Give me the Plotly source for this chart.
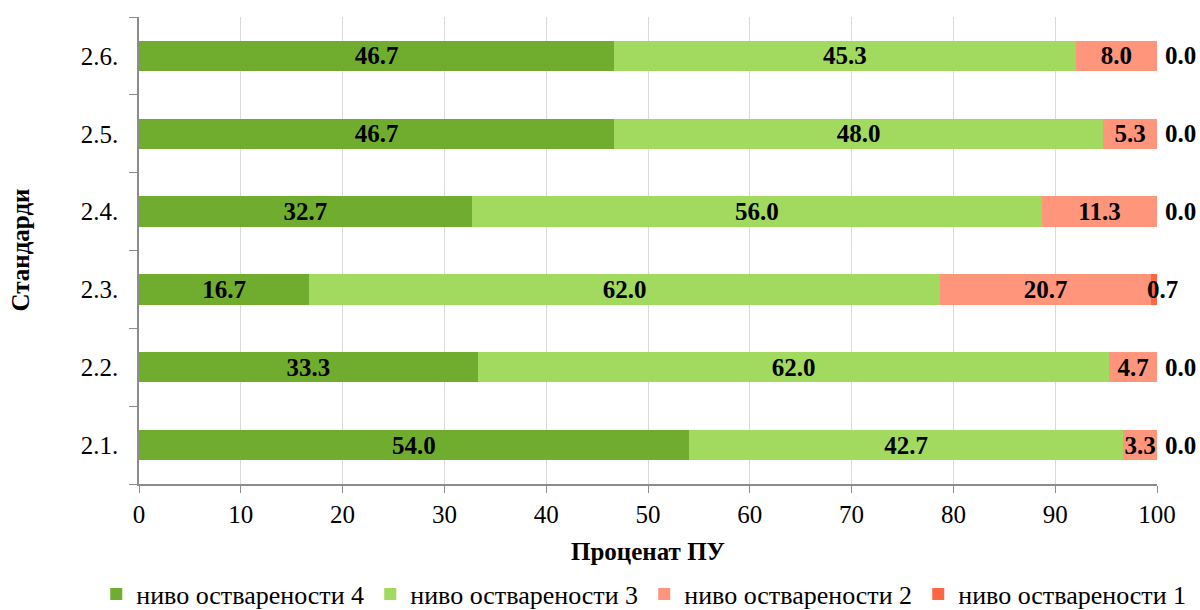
import plotly.graph_objects as go

categories = ["2.1.", "2.2.", "2.3.", "2.4.", "2.5.", "2.6."]
level4 = [54.0, 33.3, 16.7, 32.7, 46.7, 46.7]
level3 = [42.7, 62.0, 62.0, 56.0, 48.0, 45.3]
level2 = [3.3, 4.7, 20.7, 11.3, 5.3, 8.0]
level1 = [0.0, 0.0, 0.7, 0.0, 0.0, 0.0]

series = [
    ("ниво остварености 4", level4, "#70AD2F"),
    ("ниво остварености 3", level3, "#A2D95F"),
    ("ниво остварености 2", level2, "#FF967B"),
    ("ниво остварености 1", level1, "#FF6642"),
]

FONT = "Liberation Serif"
FS = 25
fig = go.Figure()
for i, (name, vals, color) in enumerate(series):
    last = i == len(series) - 1
    fig.add_trace(go.Bar(
        y=categories, x=vals, name=name, orientation="h",
        marker=dict(color=color, line=dict(width=0)),
        text=None if last else [f"{v:.1f}" for v in vals],
        textposition="inside",
        insidetextanchor="middle",
        textangle=0,
        constraintext="none",
        cliponaxis=False,
        textfont=dict(family=FONT, size=FS, color="black", weight="bold"),
        hoverinfo="skip",
    ))

# labels of the last series, placed at the end of each stacked bar
totals = [a + b + c + d for a, b, c, d in zip(level4, level3, level2, level1)]
for cat, tot, v in zip(categories, totals, level1):
    fig.add_annotation(x=min(tot, 100), y=cat, xref="x", yref="y", text=f"<b>{v:.1f}</b>",
                       showarrow=False, xanchor="left", xshift=6 if v == 0 else -12,
                       font=dict(family=FONT, size=FS, color="black"))

# axis titles
fig.add_annotation(x=0.5, y=0, xref="paper", yref="paper", text="<b>Проценат ПУ</b>",
                   showarrow=False, xanchor="center", yanchor="middle", yshift=-67,
                   font=dict(family=FONT, size=FS, color="black"))
fig.add_annotation(x=0, y=0.5, xref="paper", yref="paper", text="<b>Стандарди</b>",
                   showarrow=False, xanchor="center", yanchor="middle", xshift=-119,
                   textangle=-90, font=dict(family=FONT, size=FS, color="black"))

fig.update_layout(
    width=1200, height=610,
    barmode="stack", bargap=0.61,
    plot_bgcolor="white", paper_bgcolor="white",
    margin=dict(l=139, r=43, t=17, b=126, autoexpand=False),
    font=dict(family=FONT, size=FS, color="black"),
    uniformtext=dict(mode="show", minsize=FS),
    legend=dict(orientation="h", x=-0.042, xanchor="left",
                y=-0.236, yanchor="middle",
                font=dict(family=FONT, size=26), traceorder="normal",
                itemwidth=30, tracegroupgap=0,
                entrywidth=229, entrywidthmode="pixels"),
    xaxis=dict(range=[0, 100], dtick=10, tick0=0,
               showgrid=True, gridcolor="#D9D9D9", gridwidth=1,
               showline=True, linecolor="#8C8C8C", linewidth=1.5,
               ticks="outside", ticklen=7, tickcolor="#8C8C8C",
               tickfont=dict(family=FONT, size=FS),
               zeroline=False, automargin=False),
    yaxis=dict(categoryorder="array", categoryarray=categories,
               showline=True, linecolor="#8C8C8C", linewidth=1.5,
               ticks="outside", ticklen=8, tickcolor="#8C8C8C", tickson="boundaries",
               tickfont=dict(family=FONT, size=FS), ticklabelstandoff=14,
               showgrid=False, automargin=False),
)

fig.write_html("out.html", config={"displayModeBar": False},
               post_script="document.body.style.margin='0';document.body.style.overflow='hidden';")
